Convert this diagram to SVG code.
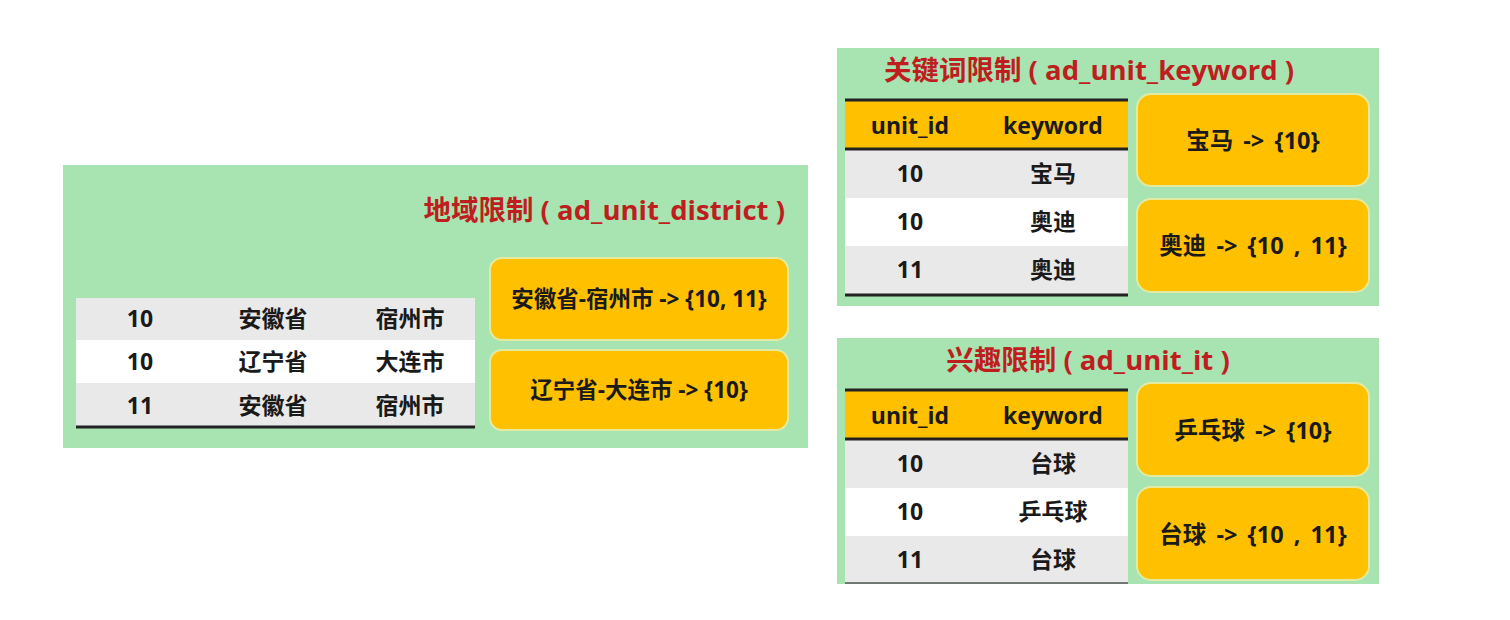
<svg xmlns="http://www.w3.org/2000/svg" width="1510" height="620" viewBox="0 0 1510 620">
<style>
.panel{fill:#A8E3B2}
.gray{fill:#E9E9E9}
.white{fill:#FFFFFF}
.hdr{fill:#FFC000}
.box{fill:#FFC000;stroke:#E3EBA0;stroke-width:2}
.rule{stroke:#222;stroke-width:3}
.thin{stroke:#555;stroke-width:1.5}
text{font-family:"Open Sans","Noto Sans CJK SC",sans-serif;font-weight:bold;fill:#1a1a1a;text-anchor:middle}
.cell{font-size:23px}
.lbl{font-size:22.5px}
.lbr{font-size:23.5px;word-spacing:4px}
.title{font-size:27.5px;fill:#BE1E1E}
</style>
<rect width="1510" height="620" fill="#FFFFFF"/>

<g id="district">
<rect class="panel" x="63" y="165" width="745" height="283"/>
<text class="title" x="785" y="220" style="text-anchor:end">地域限制 ( ad_unit_district )</text>
<rect class="gray" x="76" y="298" width="399" height="42"/>
<rect class="white" x="76" y="340" width="399" height="43"/>
<rect class="gray" x="76" y="383" width="399" height="43"/>
<line class="rule" x1="76" y1="427" x2="475" y2="427"/>
<text class="cell" x="140" y="327">10</text>
<text class="cell" x="273" y="327">安徽省</text>
<text class="cell" x="410" y="327">宿州市</text>
<text class="cell" x="140" y="370">10</text>
<text class="cell" x="273" y="370">辽宁省</text>
<text class="cell" x="410" y="370">大连市</text>
<text class="cell" x="140" y="414">11</text>
<text class="cell" x="273" y="414">安徽省</text>
<text class="cell" x="410" y="414">宿州市</text>
<g id="district-box1">
<rect class="box" x="490" y="258" width="298" height="82" rx="12"/>
<text class="lbl" x="639" y="307">安徽省-宿州市 -&gt; {10, 11}</text>
</g>
<g id="district-box2">
<rect class="box" x="490" y="350" width="298" height="80" rx="12"/>
<text class="lbl" x="639" y="398">辽宁省-大连市 -&gt; {10}</text>
</g>
</g>

<g id="keyword">
<rect class="panel" x="837" y="48" width="542" height="258"/>
<text class="title" x="1089" y="80">关键词限制 ( ad_unit_keyword )</text>
<rect class="hdr" x="845" y="101" width="283" height="48"/>
<rect class="gray" x="845" y="150" width="283" height="48"/>
<rect class="white" x="845" y="198" width="283" height="48"/>
<rect class="gray" x="845" y="246" width="283" height="48"/>
<line class="rule" x1="845" y1="100" x2="1128" y2="100"/>
<line class="rule" x1="845" y1="149" x2="1128" y2="149"/>
<line class="rule" x1="845" y1="295" x2="1128" y2="295"/>
<text class="cell" x="910" y="134">unit_id</text>
<text class="cell" x="1053" y="134">keyword</text>
<text class="cell" x="910" y="182">10</text>
<text class="cell" x="1053" y="182">宝马</text>
<text class="cell" x="910" y="230">10</text>
<text class="cell" x="1053" y="230">奥迪</text>
<text class="cell" x="910" y="278">11</text>
<text class="cell" x="1053" y="278">奥迪</text>
<g id="keyword-box1">
<rect class="box" x="1137" y="94" width="232" height="92" rx="14"/>
<text class="lbr" x="1253" y="149">宝马 -&gt; {10}</text>
</g>
<g id="keyword-box2">
<rect class="box" x="1137" y="199" width="232" height="93" rx="14"/>
<text class="lbr" x="1253" y="254">奥迪 -&gt; {10 , 11}</text>
</g>
</g>

<g id="interest">
<rect class="panel" x="837" y="338" width="542" height="246"/>
<text class="title" x="1088" y="370">兴趣限制 ( ad_unit_it )</text>
<rect class="hdr" x="845" y="391" width="283" height="48"/>
<rect class="gray" x="845" y="440" width="283" height="48"/>
<rect class="white" x="845" y="488" width="283" height="48"/>
<rect class="gray" x="845" y="536" width="283" height="47"/>
<line class="rule" x1="845" y1="390" x2="1128" y2="390"/>
<line class="rule" x1="845" y1="439" x2="1128" y2="439"/>
<line class="thin" x1="845" y1="583" x2="1128" y2="583"/>
<text class="cell" x="910" y="424">unit_id</text>
<text class="cell" x="1053" y="424">keyword</text>
<text class="cell" x="910" y="472">10</text>
<text class="cell" x="1053" y="472">台球</text>
<text class="cell" x="910" y="520">10</text>
<text class="cell" x="1053" y="520">乒乓球</text>
<text class="cell" x="910" y="568">11</text>
<text class="cell" x="1053" y="568">台球</text>
<g id="interest-box1">
<rect class="box" x="1137" y="383" width="232" height="93" rx="14"/>
<text class="lbr" x="1253" y="439">乒乓球 -&gt; {10}</text>
</g>
<g id="interest-box2">
<rect class="box" x="1137" y="487" width="232" height="93" rx="14"/>
<text class="lbr" x="1253" y="543">台球 -&gt; {10 , 11}</text>
</g>
</g>

<g id="connectors"></g>
</svg>
